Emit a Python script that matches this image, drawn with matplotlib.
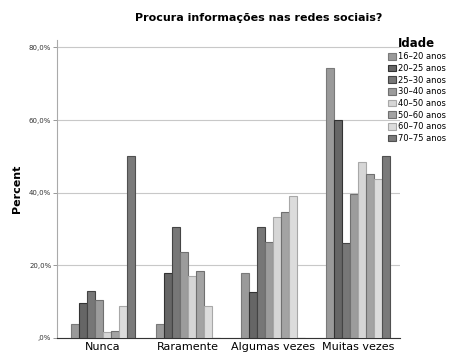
import matplotlib
matplotlib.use("Agg")
import matplotlib.pyplot as plt
import numpy as np

categories = ["Nunca", "Raramente", "Algumas vezes", "Muitas vezes"]
age_groups = ["16–20 anos", "20–25 anos", "25–30 anos", "30–40 anos",
              "40–50 anos", "50–60 anos", "60–70 anos", "70–75 anos"]
# percent per age group, one value per answer category
values = [
    [3.8, 3.8, 17.9, 74.4],
    [9.6, 17.9, 12.6, 59.9],
    [12.9, 30.5, 30.5, 26.1],
    [10.4, 23.6, 26.3, 39.6],
    [1.6, 17.0, 33.2, 48.4],
    [1.9, 18.4, 34.6, 45.0],
    [8.8, 8.8, 39.0, 43.7],
    [50.0, 0.0, 0.0, 50.0],
]
colors = ["#9a9a9a", "#666666", "#777777", "#9c9c9c",
          "#d6d6d6", "#a3a3a3", "#dcdcdc", "#7a7a7a"]
edges = ["#7a7a7a", "#333333", "#444444", "#707070",
         "#a8a8a8", "#707070", "#a8a8a8", "#505050"]
yticks = [0, 20, 40, 60, 80]
ytick_labels = [",0%", "20,0%", "40,0%", "60,0%", "80,0%"]

fig = plt.figure(figsize=(4.62, 3.58), dpi=100)
ax = fig.add_axes([0.123, 0.056, 0.743, 0.832])

x = np.arange(len(categories))
w = 0.094
for i, (vals, c, e) in enumerate(zip(values, colors, edges)):
    ax.bar(x + (i - 3.5) * w, vals, width=w, color=c, edgecolor=e,
           linewidth=0.8, label=age_groups[i], zorder=3)

ax.set_xlim(-0.54, 3.49)
ax.set_ylim(0, 82)
ax.set_yticks(yticks)
ax.set_yticklabels(ytick_labels, fontsize=5, color="#333333")
ax.set_xticks(x)
ax.set_xticklabels(categories, fontsize=8)
ax.tick_params(axis="x", length=0, pad=3)
ax.tick_params(axis="y", length=3, width=0.6, color="#888888", pad=1)
ax.yaxis.grid(True, color="#c8c8c8", linewidth=0.8, zorder=0)
for s in ["top", "right"]:
    ax.spines[s].set_visible(False)
ax.spines["left"].set_color("#aaaaaa")
ax.spines["left"].set_linewidth(0.8)
ax.spines["bottom"].set_color("#333333")
ax.spines["bottom"].set_linewidth(0.8)

ax.set_ylabel("Percent", fontsize=8, fontweight="bold", labelpad=5)
fig.suptitle("Procura informações nas redes sociais?", fontsize=8,
             fontweight="bold", x=0.56, y=0.965)

leg = fig.legend(loc="upper left", bbox_to_anchor=(0.84, 0.898),
                 fontsize=6, title="Idade", frameon=False,
                 handlelength=0.9, handleheight=0.9, handletextpad=0.25,
                 labelspacing=0.32, borderaxespad=0, borderpad=0)
leg.get_title().set_fontweight("bold")
leg.get_title().set_fontsize(8.5)

fig.savefig("out.png", dpi=100)
